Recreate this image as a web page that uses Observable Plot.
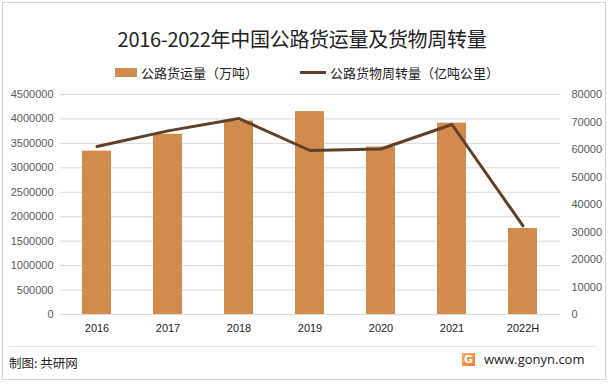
<!DOCTYPE html>
<html>
<head>
<meta charset="utf-8">
<script src="https://cdn.jsdelivr.net/npm/d3@7"></script>
<script src="https://cdn.jsdelivr.net/npm/@observablehq/plot@0.6"></script>
<style>
  html, body { margin: 0; padding: 0; background: #fff; }
  #wrap { position: relative; width: 612px; height: 384px; overflow: hidden; font-family: "Noto Sans CJK SC", "Noto Sans", sans-serif; }
  #frame { position: absolute; left: 2px; top: 2px; width: 604px; height: 378px; border: 1px solid #d0d0d0; box-sizing: border-box; }
  #title { position: absolute; left: 0; width: 604px; top: 24px; text-align: center; font-size: 20px; color: #222; letter-spacing: -0.3px; }
  .leg { position: absolute; top: 63px; font-size: 13px; color: #222; display: flex; align-items: center; }
  .sw { display: inline-block; margin-right: 4px; }
  #chart { position: absolute; left: 0; top: 80px; }
  #footline { position: absolute; left: 9px; top: 346px; border-top: 1px solid #e3e3e3; width: 588px; }
  #credit { position: absolute; left: 9px; top: 353px; font-size: 12.5px; color: #222; }
  #site { position: absolute; left: 462px; top: 350px; font-size: 13px; color: #222; display: flex; align-items: center; font-family: "Open Sans", "Noto Sans", sans-serif; }
  #logo { width: 13px; height: 13px; background: linear-gradient(135deg, #f7b15a, #ef7a3a); color: #fff; font-size: 11px; font-weight: bold; line-height: 13px; text-align: center; margin-right: 9px; font-family: "DejaVu Sans", sans-serif; }
</style>
</head>
<body>
<div id="wrap">
  <div id="frame"></div>
  <div id="title">2016-2022年中国公路货运量及货物周转量</div>
  <div class="leg" style="left:115px"><span class="sw" style="width:22px;height:9px;background:#D38B4D"></span>公路货运量（万吨）</div>
  <div class="leg" style="left:300px"><span class="sw" style="width:26px;height:3px;background:#5E4128"></span>公路货物周转量（亿吨公里）</div>
  <div id="chart"></div>
  <div id="footline"></div>
  <div id="credit">制图: 共研网</div>
  <div id="site"><div id="logo">G</div>www.gonyn.com</div>
</div>
<script>
const years = ["2016", "2017", "2018", "2019", "2020", "2021", "2022H"];
const volume = [3341259, 3686858, 3956871, 4150000, 3426413, 3913889, 1760000];
const turnover = [61080, 66772, 71249, 59636, 60172, 69087, 32240];
const leftTicks = [0, 500000, 1000000, 1500000, 2000000, 2500000, 3000000, 3500000, 4000000, 4500000];
const rightTicks = [0, 10000, 20000, 30000, 40000, 50000, 60000, 70000, 80000];

const leftMax = 4500000, rightMax = 80000;
const k = leftMax / rightMax;
const bars = years.map((y, i) => ({year: y, v: volume[i]}));
const line = years.map((y, i) => ({year: y, t: turnover[i], s: turnover[i] * k}));

const chart = Plot.plot({
  width: 612,
  height: 260,
  marginTop: 14,
  marginBottom: 26,
  marginLeft: 60,
  marginRight: 52,
  style: {fontFamily: "'Liberation Sans', 'Noto Sans', sans-serif", fontSize: "11px", color: "#595959", background: "transparent"},
  x: {domain: years, paddingInner: 0.59, paddingOuter: 0.295, label: null},
  y: {domain: [0, leftMax], label: null},
  marks: [
    Plot.gridY(leftTicks, {stroke: "#d9d9d9", strokeOpacity: 1}),
    Plot.axisY({ticks: leftTicks, tickSize: 0, tickPadding: 7, tickFormat: d => String(d), label: null}),
    Plot.axisY(rightTicks.map(t => t * k), {anchor: "right", tickSize: 0, tickPadding: 11, tickFormat: d => String(Math.round(d / k)), label: null, textAnchor: "start"}),
    Plot.axisX({tickSize: 0, tickPadding: 10, fill: "#222", label: null}),
    Plot.barY(bars, {x: "year", y: "v", fill: "#D38B4D"}),
    Plot.lineY(line, {x: "year", y: "s", stroke: "#5E4128", strokeWidth: 3, curve: "linear"})
  ]
});
document.getElementById("chart").appendChild(chart);
</script>
</body>
</html>
